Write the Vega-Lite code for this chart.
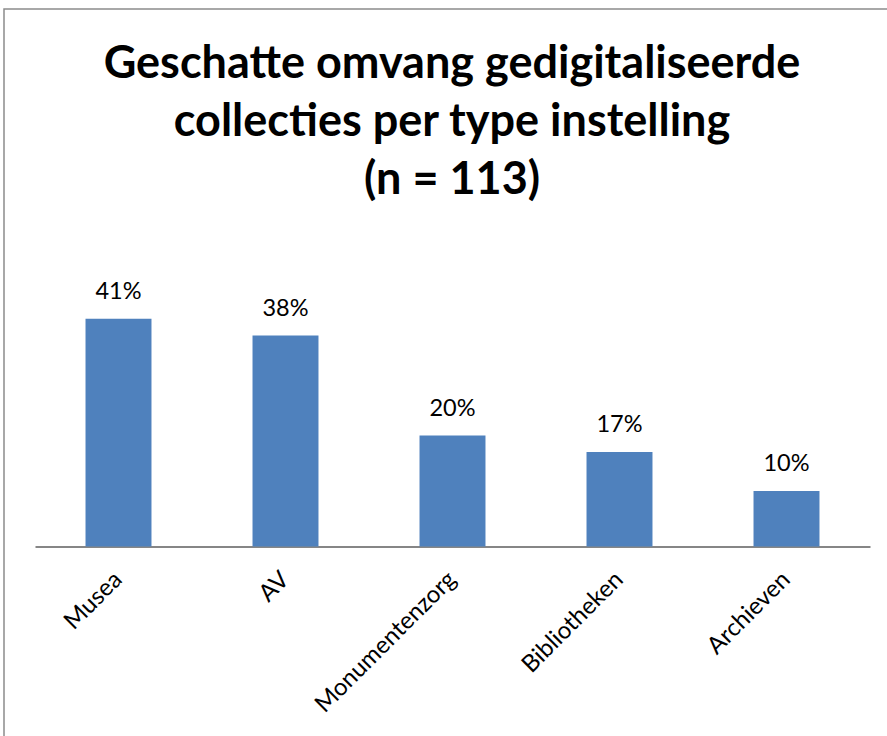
{
  "$schema": "https://vega.github.io/schema/vega-lite/v6.json",
  "width": 896,
  "height": 740,
  "autosize": "none",
  "padding": {"left": 4, "top": 9, "right": 0, "bottom": 0},
  "background": "white",
  "config": {
    "view": {"stroke": "#8c8c8c", "strokeWidth": 1.5},
    "font": "Lato"
  },
  "title": {
    "text": ["Geschatte omvang gedigitaliseerde", "collecties  per type instelling", "(n = 113)"],
    "font": "Lato",
    "fontSize": 45,
    "fontWeight": "bold",
    "lineHeight": 58,
    "anchor": "middle",
    "color": "black",
    "offset": -194
  },
  "data": {
    "values": [
      {"type": "Musea", "value": 41, "label": "41%"},
      {"type": "AV", "value": 38, "label": "38%"},
      {"type": "Monumentenzorg", "value": 20, "label": "20%"},
      {"type": "Bibliotheken", "value": 17, "label": "17%"},
      {"type": "Archieven", "value": 10, "label": "10%"}
    ]
  },
  "encoding": {
    "x": {
      "field": "type",
      "type": "nominal",
      "sort": null,
      "scale": {"range": [31, 866], "paddingInner": 0.605, "paddingOuter": 0.3025},
      "axis": {
        "title": null,
        "labelAngle": -45,
        "labelAlign": "right",
        "labelBaseline": "middle",
        "labelFont": "Lato",
        "labelFontSize": 24,
        "labelColor": "black",
        "labelLimit": 500,
        "ticks": false,
        "tickSize": 0,
        "labelPadding": 29,
        "domainColor": "#868686",
        "domainWidth": 2,
        "grid": false,
        "offset": -202.5
      }
    },
    "y": {
      "field": "value",
      "type": "quantitative",
      "scale": {"domain": [0, 45], "range": [537.5, 287.5]},
      "axis": null
    }
  },
  "layer": [
    {"mark": {"type": "bar", "color": "#4F81BD"}},
    {
      "mark": {"type": "text", "baseline": "alphabetic", "dy": -19.6, "fontSize": 23.5, "font": "Lato", "color": "black"},
      "encoding": {"text": {"field": "label"}}
    }
  ]
}
